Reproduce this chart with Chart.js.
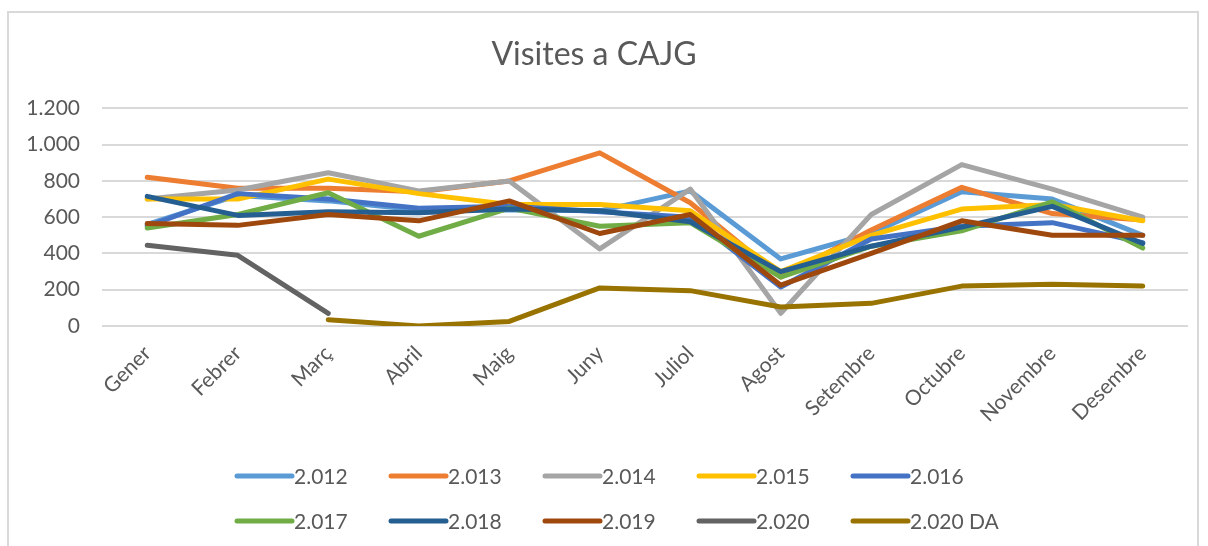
<!DOCTYPE html>
<html>
<head>
<meta charset="utf-8">
<script src="https://cdn.jsdelivr.net/npm/chart.js@4"></script>
<style>
  html, body { margin: 0; padding: 0; background: #fff; }
  #wrap { width: 1208px; height: 546px; }
</style>
</head>
<body>
<div id="wrap"><canvas id="myChart" width="1208" height="546"></canvas></div>
<script>
"use strict";

var months = ['Gener', 'Febrer', 'Març', 'Abril', 'Maig', 'Juny', 'Juliol', 'Agost', 'Setembre', 'Octubre', 'Novembre', 'Desembre'];
var seriesNames = ['2.012', '2.013', '2.014', '2.015', '2.016', '2.017', '2.018', '2.019', '2.020', '2.020 DA'];

var v2012 = [560, 720, 690, 640, 640, 635, 745, 370, 510, 740, 700, 500];
var v2013 = [820, 760, 760, 740, 800, 955, 680, 270, 530, 765, 620, 585];
var v2014 = [700, 750, 845, 745, 800, 425, 755, 70, 615, 890, 755, 600];
var v2015 = [700, 700, 810, 730, 670, 670, 635, 300, 500, 645, 670, 580];
var v2016 = [550, 730, 700, 650, 660, 630, 600, 215, 480, 550, 570, 460];
var v2017 = [540, 615, 735, 495, 650, 550, 570, 270, 440, 525, 685, 430];
var v2018 = [715, 610, 630, 625, 645, 635, 575, 300, 440, 545, 660, 455];
var v2019 = [565, 555, 615, 580, 690, 510, 615, 225, 400, 580, 500, 500];
var v2020 = [445, 390, 70, null, null, null, null, null, null, null, null, null];
var v2020da = [null, null, 35, 0, 25, 210, 195, 105, 125, 220, 230, 220];

var yTicks = [0, 200, 400, 600, 800, 1000, 1200];

var colors = ['#5B9BD5', '#ED7D31', '#A5A5A5', '#FFC000', '#4472C4', '#70AD47', '#255E91', '#9E480E', '#636363', '#997300'];
var allValues = [v2012, v2013, v2014, v2015, v2016, v2017, v2018, v2019, v2020, v2020da];

var textColor = '#595959';
var fontFamily = 'Lato, "Open Sans", sans-serif';

function withDots(n) {
    return String(n).replace(/\B(?=(\d{3})+(?!\d))/g, '.');
}

var datasets = seriesNames.map(function (name, i) {
    return {
        label: name,
        data: allValues[i],
        borderColor: colors[i],
        backgroundColor: colors[i],
        borderWidth: 5,
        pointRadius: 0,
        tension: 0,
        fill: false,
        borderCapStyle: 'round',
        borderJoinStyle: 'round',
        order: seriesNames.length - i   // later years on top, like Excel
    };
});

// frame around the chart + grid legend (2 rows x 5 columns)
var excelLook = {
    id: 'excelLook',
    beforeDraw: function (chart) {
        var c = chart.ctx;
        c.save();
        c.fillStyle = '#fff';
        c.fillRect(0, 0, chart.width, chart.height);
        c.strokeStyle = '#d9d9d9';
        c.lineWidth = 2;
        c.strokeRect(8, 12, 1190, 545);
        c.restore();
    },
    afterDraw: function (chart) {
        var c = chart.ctx;
        c.save();
        c.font = '21px ' + fontFamily;
        c.textBaseline = 'middle';
        c.textAlign = 'left';
        chart.data.datasets.forEach(function (ds, i) {
            var x = 234 + (i % 5) * 154;
            var y = i < 5 ? 476 : 521;
            c.strokeStyle = ds.borderColor;
            c.lineWidth = 5;
            c.lineCap = 'round';
            c.beginPath();
            c.moveTo(x + 3, y);
            c.lineTo(x + 58, y);
            c.stroke();
            c.fillStyle = textColor;
            c.fillText(ds.label, x + 60, y + 1);
        });
        c.restore();
    }
};

var ctx = document.getElementById('myChart').getContext('2d');
var chart = new Chart(ctx, {
    type: 'line',
    data: {
        labels: months,
        datasets: datasets
    },
    plugins: [excelLook],
    options: {
        responsive: false,
        animation: false,
        layout: {
            padding: { left: 0, right: 20, top: 0, bottom: 100 }
        },
        plugins: {
            legend: { display: false },
            tooltip: { enabled: false },
            title: {
                display: true,
                text: 'Visites a CAJG',
                color: textColor,
                font: { family: fontFamily, size: 32, weight: 'normal', lineHeight: 1.2 },
                padding: { top: 35, bottom: 35 }
            }
        },
        scales: {
            x: {
                offset: true,
                grid: { display: false, drawTicks: false },
                border: { display: false },
                ticks: {
                    color: textColor,
                    font: { family: fontFamily, size: 21 },
                    maxRotation: 45,
                    minRotation: 45,
                    autoSkip: false,
                    padding: 15
                },
                afterFit: function (scale) { scale.height = 120; }
            },
            y: {
                min: 0,
                max: 1200,
                grid: { color: '#d9d9d9', lineWidth: 2, drawTicks: false },
                border: { display: false },
                afterBuildTicks: function (scale) {
                    scale.ticks = yTicks.map(function (v) { return { value: v }; });
                },
                ticks: {
                    color: textColor,
                    font: { family: fontFamily, size: 21 },
                    padding: 22,
                    callback: function (v) { return withDots(v); }
                },
                afterFit: function (scale) { scale.width = 102; }
            }
        }
    }
});
</script>
</body>
</html>
